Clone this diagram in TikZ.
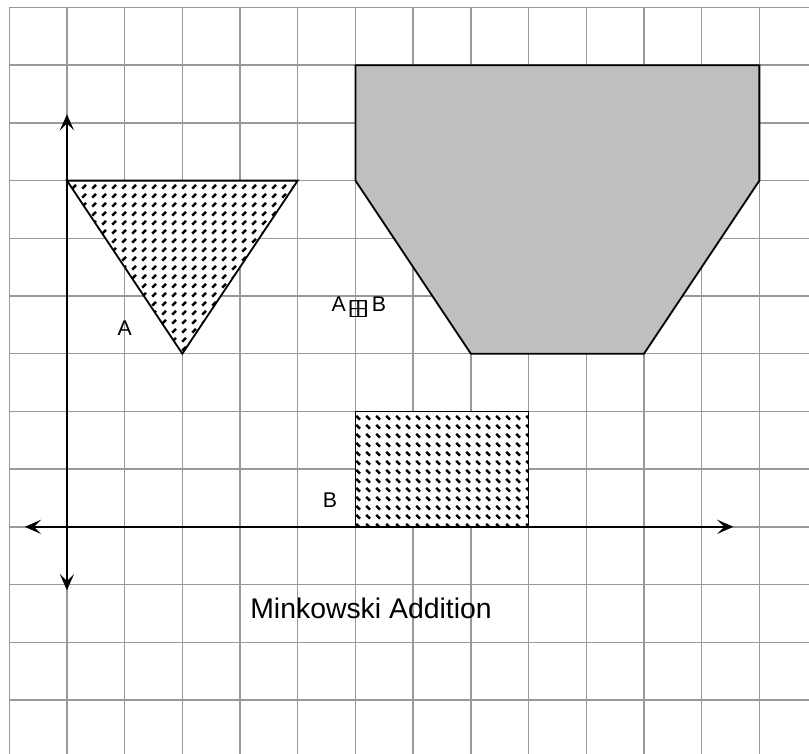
\documentclass[tikz,border=0pt]{standalone}
\usepackage{amsmath,amssymb}
\usepackage{fontspec}
\setmainfont{Liberation Sans}
\usetikzlibrary{arrows.meta,patterns.meta}
\tikzdeclarepattern{name=dashne, type=uncolored, bottom left={(0pt,0pt)}, top right={(5pt,4.6pt)}, tile size={(5pt,4.6pt)},
  code={\draw[line width=1.3pt] (1.2pt,1.2pt)--(3.2pt,3.2pt);}}
\tikzdeclarepattern{name=dashse, type=uncolored, bottom left={(0pt,0pt)}, top right={(5pt,4.6pt)}, tile size={(5pt,4.6pt)},
  code={\draw[line width=1.3pt] (1.2pt,3.2pt)--(3.2pt,1.2pt);}}
\tikzset{lbl/.style={font=\fontsize{10.5}{12}\selectfont},
  axis/.style={line width=1pt,{Stealth[length=8pt,width=7pt,inset=3.5pt]}-{Stealth[length=8pt,width=7pt,inset=3.5pt]}}}
\begin{document}
\begin{tikzpicture}
    \useasboundingbox (-1.16,-3.92) rectangle (12.86,9.13);
    \clip (-1.16,-3.92) rectangle (12.86,9.13);
    \draw[gray!80,line width=0.7pt] (-1,-4) grid (13,9);
    \coordinate (A1) at (0,6); \coordinate (A2) at (4,6); \coordinate (A3) at (2,3);
    \coordinate (B1) at (5,0); \coordinate (B2) at (8,0); \coordinate (B3) at (8,2); \coordinate (B4) at (5,2);
    \coordinate (S1) at (5,6); \coordinate (S2) at (5,8); \coordinate (S3) at (12,8);
    \coordinate (S4) at (12,6); \coordinate (S5) at (10,3); \coordinate (S6) at (7,3);
    \fill[gray!50] (S1)--(S2)--(S3)--(S4)--(S5)--(S6)--cycle;
    \draw[line width=0.9pt] (S1)--(S2)--(S3)--(S4)--(S5)--(S6)--cycle;
    \fill[white] (A1)--(A2)--(A3)--cycle;
    \fill[pattern=dashne] (A1)--(A2)--(A3)--cycle;
    \draw[line width=0.9pt] (A1)--(A2)--(A3)--cycle;
    \fill[white] (B1)--(B2)--(B3)--(B4)--cycle;
    \fill[pattern=dashse] (B1)--(B2)--(B3)--(B4)--cycle;
    \draw[line width=0.9pt] (B1)--(B2)--(B3)--(B4)--cycle;
    \coordinate (xl) at (-0.73,0); \coordinate (xr) at (11.55,0);
    \coordinate (yt) at (0,7.15); \coordinate (yb) at (0,-1.1);
    \draw[axis] (xl)--(xr); \draw[axis] (yb)--(yt);
    \node[lbl] (la) at (1.0,3.45) {A};
    \node[lbl] (lb) at (4.56,0.47) {B};
    \node[lbl] (lab) at (5.06,3.8) {A\,\raisebox{-3pt}{\scalebox{1.15}{$\pmb{\boxplus}$}}\,B};
    \node[font=\fontsize{14}{17}\selectfont] (title) at (5.27,-1.42) {Minkowski Addition};
  \end{tikzpicture}
\end{document}
